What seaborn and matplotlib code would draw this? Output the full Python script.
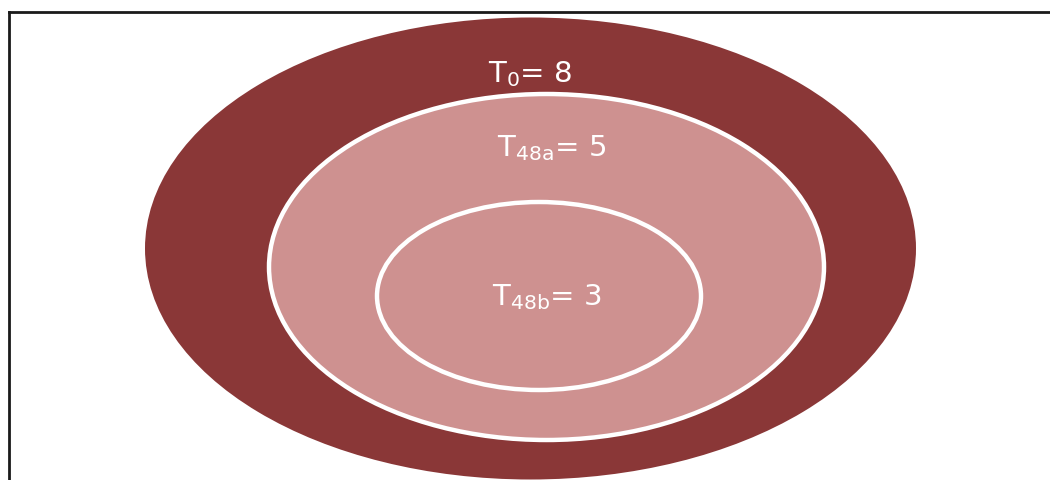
import matplotlib
matplotlib.use("Agg")
import matplotlib.pyplot as plt
from matplotlib.patches import Ellipse
import seaborn as sns

# Nested groups and their counts
groups = ["0", "48a", "48b"]
counts = [8, 5, 3]

sns.set_theme(style="white")
plt.rcParams["font.family"] = ["DejaVu Sans"]
plt.rcParams["mathtext.default"] = "regular"

W, H = 1050, 481
fig = plt.figure(figsize=(W / 100, H / 100), dpi=100)
fig.patch.set_facecolor("white")

# Axes in pixel units, with a frame on the top and left sides only
left_px, top_px = 9, 13
ax = fig.add_axes([left_px / W, 0, (W - left_px) / W, (H - top_px) / H])
ax.set_xlim(left_px, W)
ax.set_ylim(H, top_px)
ax.set_facecolor("white")
for side in ["right", "bottom"]:
    ax.spines[side].set_visible(False)
for side in ["top", "left"]:
    ax.spines[side].set_visible(True)
    ax.spines[side].set_color("#1a1a1a")
    ax.spines[side].set_linewidth(2.0)
ax.set_xticks([])
ax.set_yticks([])

dark = "#8a3737"
light = "#ce9190"

# Ellipse geometry: centre (x, y), width, height, fill, edge
shapes = [
    ((530.5, 249.5), 771, 462, dark, "none", 0),
    ((546.5, 268), 555, 346, light, "white", 3.2),
    ((539, 297), 324, 188, light, "white", 3.2),
]
for (cx, cy), w, h, fc, ec, lw in shapes:
    ax.add_patch(Ellipse((cx, cy), w, h, facecolor=fc, edgecolor=ec,
                         linewidth=lw, zorder=2))

# Labels for each group, placed by baseline
label_pos = [(530, 82), (552, 156), (547, 305)]
for g, n, (x, y) in zip(groups, counts, label_pos):
    ax.text(x, y, f"T$_{{{g}}}$= {n}", color="white", fontsize=21,
            ha="center", va="baseline", zorder=3)

fig.savefig("out.png", dpi=100, facecolor="white")
